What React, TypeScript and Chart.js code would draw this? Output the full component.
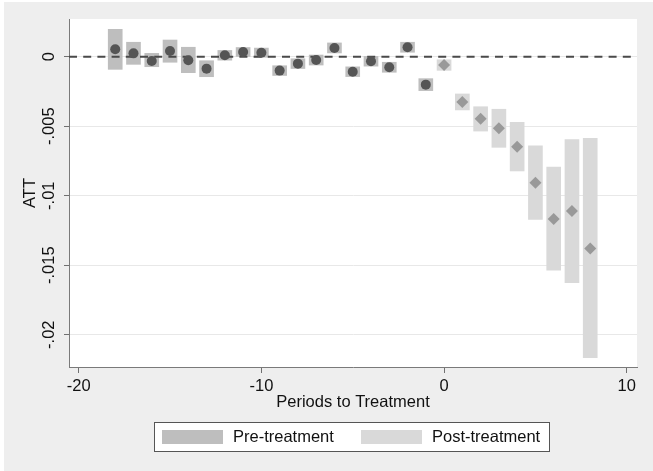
import React, { useEffect, useRef } from "react";
import { Chart, registerables } from "chart.js";

Chart.register(...registerables);

const FONT_FAMILY = '"Liberation Sans", Arial, Helvetica, sans-serif';
const FONT_SIZE = 16.5;
const TEXT_COLOR = "#111111";

// Event-study estimates: periods before treatment
const prePeriods = [-18, -17, -16, -15, -14, -13, -12, -11, -10, -9, -8, -7, -6, -5, -4, -3, -2, -1];
const preATT = [0.00053, 0.00024, -0.00031, 0.00041, -0.00026, -0.00086, 0.0001, 0.00034, 0.00029, -0.001, -0.0005, -0.00024, 0.00063, -0.00108, -0.00033, -0.00076, 0.00068, -0.00201];
const preLow = [-0.00091, -0.00055, -0.00072, -0.0004, -0.00115, -0.00144, -0.00025, 0.00002, -0.00004, -0.00135, -0.00085, -0.0006, 0.00027, -0.00143, -0.00068, -0.00112, 0.00032, -0.00244];
const preHigh = [0.00197, 0.00104, 0.00024, 0.0012, 0.00068, -0.00029, 0.00045, 0.00066, 0.00062, -0.00065, -0.00015, 0.00012, 0.00099, -0.00073, 0.00002, -0.0004, 0.00104, -0.00158];

// Periods after treatment
const postPeriods = [0, 1, 2, 3, 4, 5, 6, 7, 8];
const postATT = [-0.0006, -0.00326, -0.00446, -0.00515, -0.00647, -0.00906, -0.01168, -0.0111, -0.01379];
const postLow = [-0.00098, -0.00383, -0.00535, -0.00652, -0.00822, -0.0117, -0.01535, -0.01626, -0.02165];
const postHigh = [-0.00022, -0.00268, -0.0036, -0.00378, -0.00472, -0.00642, -0.00794, -0.00597, -0.00587];

// Axes
const xTicks = [-20, -10, 0, 10];
const yTicks = [0, -0.005, -0.01, -0.015, -0.02];
const yTickLabels = ["0", "-.005", "-.01", "-.015", "-.02"];
const X_MIN = -20.53;
const X_MAX = 10.56;
const Y_MIN = -0.022324;
const Y_MAX = 0.002712;

const legendLabels = ["Pre-treatment", "Post-treatment"];

const PRE_BAR = "#bebebe";
const POST_BAR = "#d9d9d9";
const PRE_POINT = "#555555";
const POST_POINT = "#999999";

const fontStr = `${FONT_SIZE}px ${FONT_FAMILY}`;

const backgroundPlugin = {
  id: "stataBackground",
  beforeDraw(chart: any) {
    const { ctx, width, height, chartArea } = chart;
    ctx.save();
    ctx.fillStyle = "#ffffff";
    ctx.fillRect(0, 0, width, height);
    ctx.fillStyle = "#eeeeee";
    ctx.fillRect(4, 2, width - 4, height - 2);
    ctx.fillStyle = "#ffffff";
    ctx.fillRect(chartArea.left, chartArea.top, chartArea.right - chartArea.left, chartArea.bottom - chartArea.top);
    ctx.restore();
  },
};

// Dashed reference line at zero, drawn above the CI bars but under the estimates
const zeroLinePlugin = {
  id: "zeroLine",
  afterDatasetDraw(chart: any, args: any) {
    if (args.index !== 2) return;
    const { ctx, chartArea, scales } = chart;
    const y = scales.y.getPixelForValue(0);
    ctx.save();
    ctx.beginPath();
    ctx.rect(chartArea.left, chartArea.top, chartArea.right - chartArea.left, chartArea.bottom - chartArea.top);
    ctx.clip();
    ctx.strokeStyle = "#4a4a4a";
    ctx.lineWidth = 2;
    ctx.setLineDash([8, 6.2]);
    ctx.beginPath();
    ctx.moveTo(chartArea.left, y);
    ctx.lineTo(chartArea.right, y);
    ctx.stroke();
    ctx.restore();
  },
};

// Vertical y tick labels and the boxed legend
const labelsPlugin = {
  id: "stataLabels",
  afterDraw(chart: any) {
    const { ctx, scales } = chart;
    ctx.save();
    ctx.font = fontStr;
    ctx.fillStyle = TEXT_COLOR;
    yTicks.forEach((v, i) => {
      const y = scales.y.getPixelForValue(v);
      ctx.save();
      ctx.translate(53.5, y);
      ctx.rotate(-Math.PI / 2);
      ctx.textAlign = "center";
      ctx.textBaseline = "alphabetic";
      ctx.fillText(yTickLabels[i], 0, 0);
      ctx.restore();
    });

    // legend
    ctx.fillStyle = "#ffffff";
    ctx.fillRect(154.5, 422.5, 395, 29);
    ctx.strokeStyle = "#555555";
    ctx.lineWidth = 1;
    ctx.strokeRect(154.5, 422.5, 395, 29);
    const swatchX = [162, 361];
    const textX = [233, 432];
    const colors = [PRE_BAR, POST_BAR];
    legendLabels.forEach((label, i) => {
      ctx.fillStyle = colors[i];
      ctx.fillRect(swatchX[i], 430, 61, 14);
      ctx.fillStyle = TEXT_COLOR;
      ctx.textAlign = "left";
      ctx.textBaseline = "middle";
      ctx.fillText(label, textX[i], 437.5);
    });
    ctx.restore();
  },
};

export default function App() {
  const canvasRef = useRef<HTMLCanvasElement | null>(null);

  useEffect(() => {
    const canvas = canvasRef.current;
    if (!canvas) return;
    const font = { family: FONT_FAMILY, size: FONT_SIZE };

    const chart = new Chart(canvas, {
      type: "bar",
      data: {
        datasets: [
          {
            type: "scatter",
            label: "Pre-treatment estimate",
            data: prePeriods.map((x, i) => ({ x, y: preATT[i] })),
            pointStyle: "circle",
            pointRadius: 5,
            backgroundColor: PRE_POINT,
            borderColor: PRE_POINT,
            borderWidth: 0,
            order: 0,
          },
          {
            type: "scatter",
            label: "Post-treatment estimate",
            data: postPeriods.map((x, i) => ({ x, y: postATT[i] })),
            pointStyle: "rectRot",
            pointRadius: 6,
            backgroundColor: POST_POINT,
            borderColor: POST_POINT,
            borderWidth: 0,
            order: 0,
          },
          {
            type: "bar",
            label: legendLabels[0],
            data: prePeriods.map((x, i) => ({ x, y: [preLow[i], preHigh[i]] })),
            backgroundColor: PRE_BAR,
            borderWidth: 0,
            barThickness: 14,
            grouped: false,
            order: 1,
          },
          {
            type: "bar",
            label: legendLabels[1],
            data: postPeriods.map((x, i) => ({ x, y: [postLow[i], postHigh[i]] })),
            backgroundColor: POST_BAR,
            borderWidth: 0,
            barThickness: 14,
            grouped: false,
            order: 1,
          },
        ] as any,
      },
      options: {
        responsive: false,
        animation: false,
        layout: { padding: { top: 19, right: 16, left: 0, bottom: 0 } },
        plugins: {
          legend: { display: false },
          tooltip: { enabled: false },
        },
        scales: {
          x: {
            type: "linear",
            min: X_MIN,
            max: X_MAX,
            offset: false,
            afterBuildTicks: (s: any) => {
              s.ticks = xTicks.map((v) => ({ value: v }));
            },
            afterFit: (s: any) => {
              s.height = 104;
            },
            grid: {
              drawOnChartArea: false,
              drawTicks: true,
              tickLength: 6,
              tickColor: "#707070",
              offset: false,
            },
            border: { display: true, color: "#7a7a7a", width: 1 },
            ticks: {
              font,
              color: TEXT_COLOR,
              padding: 4,
              maxRotation: 0,
              minRotation: 0,
              autoSkip: false,
              callback: (v: any) => String(v),
            },
            title: {
              display: true,
              text: "Periods to Treatment",
              font,
              color: TEXT_COLOR,
              padding: { top: 0, bottom: 58.5 },
            },
          },
          y: {
            type: "linear",
            min: Y_MIN,
            max: Y_MAX,
            afterBuildTicks: (s: any) => {
              s.ticks = yTicks.map((v) => ({ value: v }));
            },
            afterFit: (s: any) => {
              s.width = 69;
            },
            grid: {
              color: "#e8e8e8",
              lineWidth: 1,
              drawTicks: true,
              tickLength: 5,
              tickColor: "#707070",
            },
            border: { display: true, color: "#7a7a7a", width: 1 },
            ticks: { display: false },
            title: {
              display: true,
              text: "ATT",
              font,
              color: TEXT_COLOR,
              padding: { top: 21, bottom: 0 },
            },
          },
        },
      } as any,
      plugins: [backgroundPlugin, zeroLinePlugin, labelsPlugin],
    });

    return () => {
      chart.destroy();
    };
  }, []);

  return (
    <canvas
      ref={canvasRef}
      width={653}
      height={471}
      style={{ display: "block", position: "fixed", left: 0, top: 0, width: 653, height: 471 }}
    />
  );
}
